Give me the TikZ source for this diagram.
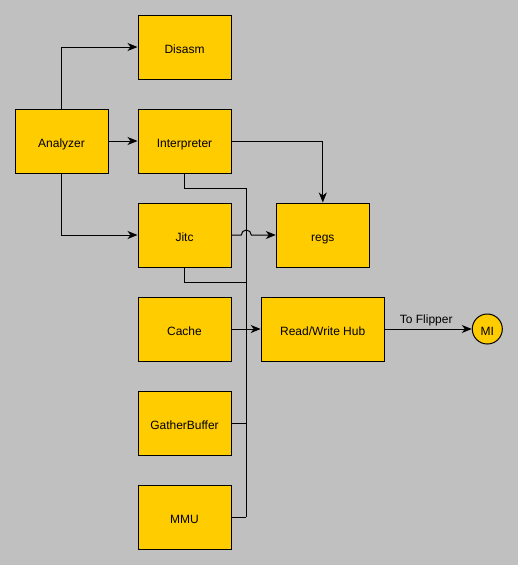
\documentclass[tikz,border=0pt]{standalone}
\usepackage{fontspec}
\setmainfont{Liberation Sans}
\usetikzlibrary{arrows.meta}
\definecolor{bg}{HTML}{C0C0C0}
\definecolor{boxfill}{HTML}{FFCC00}
\begin{document}
\begin{tikzpicture}[x=1pt,y=-1pt,
  lbl/.style={font=\fontsize{12}{14}\selectfont},
  box/.style={lbl, draw=black, fill=boxfill, line width=1pt, minimum width=93pt, minimum height=64pt, inner sep=0pt, text height=12pt, text depth=0pt},
  conn/.style={draw=black, line width=1pt},
  arr/.style={conn, -{Stealth[length=10pt,width=8pt,inset=3pt]}}]
\fill[bg] (0,0) rectangle (518,565);
\useasboundingbox (0,0) rectangle (518,565);
\node[box] (disasm) at (184.5,47) {Disasm};
\node[box] (analyzer) at (61.5,141) {Analyzer};
\node[box] (interp) at (184.5,141) {Interpreter};
\node[box] (jitc) at (184.5,235) {Jitc};
\node[box] (regs) at (322.8,235) {regs};
\node[box] (cache) at (184.5,329) {Cache};
\node[box, minimum width=123pt] (hub) at (322.7,329) {Read/Write Hub};
\node[box] (gather) at (184.5,423) {GatherBuffer};
\node[box] (mmu) at (184.5,517) {MMU};
\node[lbl, draw=black, fill=boxfill, line width=1pt, circle, minimum size=30pt, inner sep=0pt, text height=12pt, text depth=0pt] (mi) at (487.3,329) {MI};
\coordinate (bustop) at (246.3,188);
\coordinate (busjitc) at (246.3,282);
\coordinate (busgather) at (246.3,423);
\coordinate (busbot) at (246.3,517);
\coordinate (jumpa) at (241.3,235);
\draw[arr] (analyzer.north) |- (disasm.west);
\draw[arr] (analyzer.east) -- (interp.west);
\draw[arr] (analyzer.south) |- (jitc.west);
\draw[arr] (interp.east) -| (regs.north);
\draw[arr] (jitc.east) -- (jumpa) arc[start angle=180, end angle=0, radius=5pt] -- (regs.west);
\draw[conn] (interp.south) |- (bustop) -- (busbot);
\draw[conn] (jitc.south) |- (busjitc);
\draw[arr] (cache.east) -- (hub.west);
\draw[conn] (gather.east) -- (busgather);
\draw[conn] (mmu.east) -- (busbot);
\draw[arr] (hub.east) -- node[lbl, above, inner sep=3pt, xshift=-2pt] {To Flipper} (mi.west);
\end{tikzpicture}
\end{document}
